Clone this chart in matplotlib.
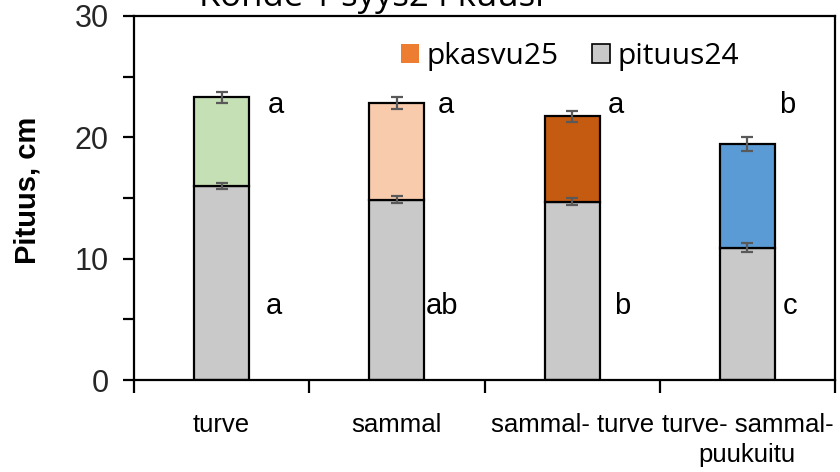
import matplotlib
matplotlib.use("Agg")
import matplotlib.pyplot as plt
from matplotlib.patches import Patch
from matplotlib.ticker import MultipleLocator
from matplotlib import font_manager

categories = ["turve", "sammal", "sammal- turve", "turve- sammal-\npuukuitu"]
pituus24 = [16.0, 14.85, 14.7, 10.9]
pituus24_err = [0.25, 0.3, 0.3, 0.35]
pkasvu25 = [7.3, 8.0, 7.05, 8.55]
total_err = [0.45, 0.5, 0.45, 0.55]
top_letters = ["a", "a", "a", "b"]
bottom_letters = ["a", "ab", "b", "c"]
top_colors = ["#C5E0B4", "#F8CBAD", "#C55A11", "#5B9BD5"]
gray = "#C9C9C9"
title = "Kohde 1 syys24 kuusi"

names = {f.name for f in font_manager.fontManager.ttflist}
narrow = "Liberation Sans Narrow" if "Liberation Sans Narrow" in names else "Liberation Sans"
cat_size = 20 if narrow == "Liberation Sans Narrow" else 18.5

fig = plt.figure(figsize=(8.4, 4.72), dpi=100)
ax = fig.add_axes([134/840, 1-380/472, (835-134)/840, (380-16)/472])

x = list(range(len(categories)))
w = 0.315
ax.bar(x, pituus24, w, color=gray, edgecolor="black", linewidth=1.6, zorder=2)
ax.bar(x, pkasvu25, w, bottom=pituus24, color=top_colors, edgecolor="black", linewidth=1.6, zorder=2)
tot = [a + b for a, b in zip(pituus24, pkasvu25)]
ax.errorbar(x, pituus24, yerr=pituus24_err, fmt="none", ecolor="#595959", elinewidth=1.6, capsize=4.5, capthick=1.6, zorder=3)
ax.errorbar(x, tot, yerr=total_err, fmt="none", ecolor="#595959", elinewidth=1.6, capsize=4.5, capthick=1.6, zorder=3)

top_dx = [0.262, 0.235, 0.205, 0.18]
bot_dx = [0.25, 0.165, 0.24, 0.2]
for i in x:
    ax.text(i + top_dx[i], 22.7, top_letters[i], fontsize=21, family="Liberation Sans", va="center", ha="left")
    ax.text(i + bot_dx[i], 6.1, bottom_letters[i], fontsize=21, family="Liberation Sans", va="center", ha="left")

ax.set_xlim(-0.5, 3.5)
ax.set_ylim(0, 30)
ax.yaxis.set_major_locator(MultipleLocator(10))
ax.yaxis.set_minor_locator(MultipleLocator(5))
ax.set_xticks([-0.5, 0.5, 1.5, 2.5, 3.5])
ax.set_xticklabels([])
ax.set_xticks(x, minor=True)
ax.set_xticklabels(categories, minor=True, fontsize=cat_size, family=narrow, linespacing=1.3)
ax.tick_params(axis="x", which="major", length=9, width=1.6, direction="out")
ax.tick_params(axis="x", which="minor", length=0, pad=24)
ax.tick_params(axis="y", which="both", length=8, width=1.6, direction="out", labelsize=22, pad=10)
for lbl in ax.get_yticklabels():
    lbl.set_family("Liberation Sans")
    lbl.set_color("#262626")
for s in ax.spines.values():
    s.set_linewidth(1.6)

ax.set_ylabel("Pituus, cm", fontsize=21, fontweight="bold", family="Liberation Sans")
ax.yaxis.set_label_coords(-0.132, 0.52)

handles = [Patch(facecolor="#ED7D31", edgecolor="none"), Patch(facecolor=gray, edgecolor="black", linewidth=1.2)]
leg = ax.legend(handles, ["pkasvu25", "pituus24"], ncol=2, loc="upper left", bbox_to_anchor=(0.343, 1.003),
                frameon=False, prop={"family": "Open Sans", "size": 21.5}, handlelength=0.6, handleheight=0.6,
                handletextpad=0.25, columnspacing=1.1)

fig.text(371/840, 1-6/472, title, fontsize=25, family="Open Sans", ha="center", va="baseline")

fig.savefig("out.png", dpi=100)
